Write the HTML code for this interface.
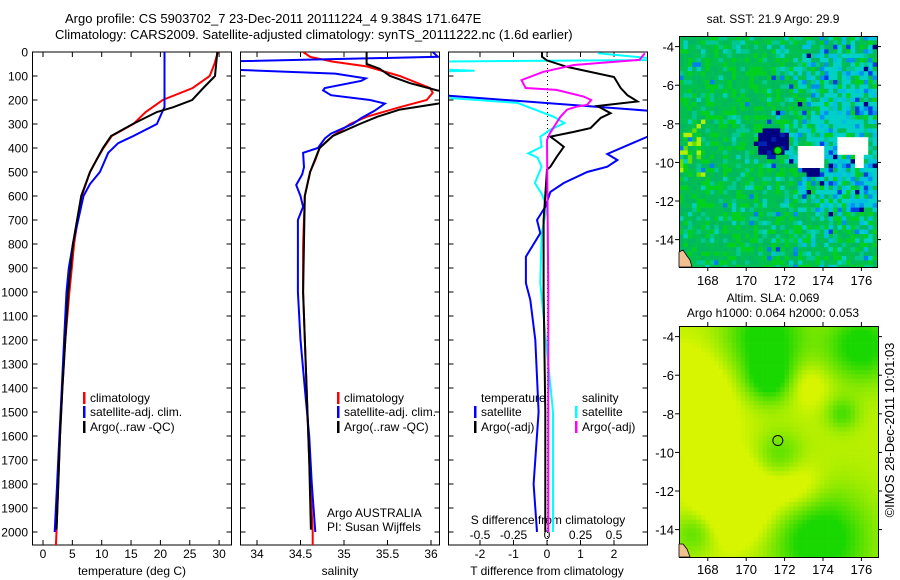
<!DOCTYPE html>
<html><head><meta charset="utf-8">
<style>
html,body{margin:0;padding:0;background:#fff;}
svg{display:block;font-family:"Liberation Sans",sans-serif;}
text{font-size:12px;fill:#000;}
</style></head>
<body>
<svg id="chart" width="900" height="580" viewBox="0 0 900 580">
<defs>
<clipPath id="c1"><rect x="33" y="52" width="198" height="493"/></clipPath>
<clipPath id="c2"><rect x="241" y="52" width="198" height="493"/></clipPath>
<clipPath id="c3"><rect x="449" y="52" width="198" height="493"/></clipPath>
<clipPath id="cm1"><rect x="679" y="36" width="198" height="231"/></clipPath>
<clipPath id="cm2"><rect x="679" y="326" width="199" height="231"/></clipPath>
</defs>
<text x="65" y="23" style="font-size:13px">Argo profile: CS 5903702_7 23-Dec-2011 20111224_4 9.384S 171.647E</text>
<text x="55" y="39" style="font-size:13px">Climatology: CARS2009. Satellite-adjusted climatology: synTS_20111222.nc (1.6d earlier)</text>
<g id="g"></g>
</svg>
<script>
// ---------- data ----------
const tClimDepth=[0,50,100,150,200,250,300,350,400,450,500,600,700,800,900,1000,1200,1400,1600,1800,2000,2055];
const tClimVal=[29.8,29.2,28.4,25.5,20.4,17.5,15.4,11.7,10.3,9.1,8.0,6.6,5.9,5.3,4.9,4.5,3.8,3.3,2.9,2.6,2.3,2.2];
const tSatDepth=[0,230,250,300,350,380,420,500,550,600,700,800,900,1000,1200,1400,1600,1800,2000];
const tSatVal=[20.7,20.7,20.3,19.4,15.4,12.8,11.1,9.7,8.0,6.9,6.0,5.1,4.4,4.0,3.6,3.2,2.8,2.4,2.0];
const tArgoDepth=[0,100,150,200,230,250,300,350,400,500,600,800,1000,1200,1400,1600,1800,1990];
const tArgoVal=[29.7,29.3,27.3,25.4,22.2,19.4,15.3,11.6,10.2,8.0,6.5,5.1,4.3,3.8,3.3,2.9,2.6,2.3];

const sClimDepth=[0,20,40,60,100,150,170,200,230,270,300,350,400,450,500,600,800,1000,1400,1700,2000,2055];
const sClimVal=[34.53,34.61,34.87,35.26,35.64,35.99,36.02,35.95,35.64,35.26,35.07,34.87,34.72,34.67,34.61,34.55,34.53,34.53,34.57,34.6,34.64,34.64];
const sSatDepth=[0,20,40,72,90,110,120,150,160,180,200,215,245,275,300,340,360,400,420,480,510,554,600,645,700,800,1000,1200,1400,1600,1800,2000];
const sSatVal=[36.02,36.08,33.6,33.6,34.9,35.25,35.2,34.78,34.76,34.85,35.3,35.47,35.35,35.2,35.1,34.85,34.78,34.7,34.53,34.54,34.52,34.45,34.5,34.53,34.47,34.47,34.47,34.5,34.55,34.6,34.63,34.67];
const sArgoDepth=[0,50,70,100,130,160,175,200,215,240,270,300,350,400,500,600,1000,1400,1700,1990];
const sArgoVal=[35.26,35.26,35.41,35.53,35.76,36.07,36.3,36.3,36.08,35.64,35.38,35.18,34.87,34.72,34.61,34.55,34.53,34.57,34.6,34.62];

const dTSatDepth=[0,150,260,340,353,425,450,478,500,546,583,645,700,755,853,963,1033,1200,1500,1800,2000];
const dTSatVal=[-6,-6,4.5,3.6,3.0,1.8,2.1,1.8,1.2,0.5,0.1,-0.05,-0.3,-0.2,-0.63,-0.63,-0.5,-0.35,-0.25,-0.4,-0.3];
const dTArgoDepth=[0,20,35,62,104,150,180,206,225,255,275,317,333,353,373,395,435,478,490,700,1000,1500,2000];
const dTArgoVal=[-0.15,-0.15,0,0.6,2.0,2.2,2.4,2.7,1.5,1.9,1.6,1.3,0.8,0.1,0.3,0.5,0.3,0.1,0,-0.1,-0.1,-0.05,-0.05];
const dSSatDepth=[5,33,40,70,78,82,185,212,270,296,325,353,395,422,440,478,546,590,645,755,963,1500,2000];
const dSSatVal=[0.38,0.9,-0.9,-0.9,-0.54,-0.9,-0.9,-0.22,0.05,0.13,0.02,-0.05,-0.04,-0.14,-0.07,-0.04,-0.09,-0.04,0,-0.04,-0.05,0.045,0.045];
const dSArgoDepth=[5,33,54,83,117,150,158,185,200,220,228,240,270,296,340,367,1000,2000];
const dSArgoVal=[0.73,0.69,0.2,-0.03,-0.19,-0.16,0.07,0.27,0.33,0.3,0.22,0.15,0.1,0.07,0.02,0,0.01,0.01];

const depthTicks=[0,100,200,300,400,500,600,700,800,900,1000,1100,1200,1300,1400,1500,1600,1700,1800,1900,2000];
const tTicks=[0,5,10,15,20,25,30];
const sTicks=[34,34.5,35,35.5,36];
const sTickLabels=["34","34.5","35","35.5","36"];
const dTTicks=[-2,-1,0,1,2];
const dSTicks=[-0.5,-0.25,0,0.25,0.5];
const latTicks=[-4,-6,-8,-10,-12,-14];
const lonTicks=[168,170,172,174,176];

// ---------- scales ----------
const yD=d=>52+0.24*d;
const xT=v=>43+5.87*v;
const xS=v=>257+87*(v-34);
const xDT=v=>547+33.5*v;
const xDS=v=>547+134*v;
const NS='http://www.w3.org/2000/svg';
const G=document.getElementById('g');
function el(tag,attrs,parent){const e=document.createElementNS(NS,tag);for(const k in attrs)e.setAttribute(k,attrs[k]);(parent||G).appendChild(e);return e;}
function txt(x,y,s,anchor,parent,size){const t=el('text',{x:x,y:y,'text-anchor':anchor||'start'},parent);if(size)t.style.fontSize=size+'px';t.textContent=s;return t;}
function line(depths,vals,xf,color,clip,name,w){
  const pts=depths.map((d,i)=>xf(vals[i]).toFixed(1)+','+yD(d).toFixed(1)).join(' ');
  const p=el('polyline',{points:pts,fill:'none',stroke:color,'stroke-width':w||2,'clip-path':'url(#'+clip+')'});
  
  
}
function frame(x0,x1,name){
  const r=el('rect',{x:x0,y:52,width:x1-x0,height:493,fill:'none',stroke:'#000','stroke-width':1});
  
  
  depthTicks.forEach(d=>{el('line',{x1:x0,x2:x0+5,y1:yD(d),y2:yD(d),stroke:'#000'});el('line',{x1:x1-5,x2:x1,y1:yD(d),y2:yD(d),stroke:'#000'});});
}
// panel 1
frame(32.5,231.5,'temperature-panel-frame');
depthTicks.forEach(d=>{const t=txt(28,yD(d)+4.5,String(d),'end');});
tTicks.forEach(v=>{el('line',{x1:xT(v),x2:xT(v),y1:52,y2:57,stroke:'#000'});el('line',{x1:xT(v),x2:xT(v),y1:540,y2:545,stroke:'#000'});const t=txt(xT(v),558,String(v),'middle');});
{const t=txt(132,575,'temperature (deg C)','middle');}
line(tClimDepth,tClimVal,xT,'#f00','c1','temperature-climatology-line');
line(tSatDepth,tSatVal,xT,'#00f','c1','temperature-satellite-line');
line(tArgoDepth,tArgoVal,xT,'#000','c1','temperature-argo-line');
// panel 2
frame(240.5,439.5,'salinity-panel-frame');
sTicks.forEach((v,i)=>{el('line',{x1:xS(v),x2:xS(v),y1:52,y2:57,stroke:'#000'});el('line',{x1:xS(v),x2:xS(v),y1:540,y2:545,stroke:'#000'});const t=txt(xS(v),558,sTickLabels[i],'middle');});
{const t=txt(340,575,'salinity','middle');}
line(sClimDepth,sClimVal,xS,'#f00','c2','salinity-climatology-line');
line(sSatDepth,sSatVal,xS,'#00f','c2','salinity-satellite-line');
line(sArgoDepth,sArgoVal,xS,'#000','c2','salinity-argo-line');
// panel 3
frame(448.5,647.5,'difference-panel-frame');
el('line',{x1:547.5,x2:547.5,y1:52,y2:545,stroke:'#000','stroke-dasharray':'1,3'});
dTTicks.forEach(v=>{el('line',{x1:xDT(v),x2:xDT(v),y1:52,y2:57,stroke:'#000'});el('line',{x1:xDT(v),x2:xDT(v),y1:540,y2:545,stroke:'#000'});const t=txt(xDT(v),558,String(v),'middle');});
dSTicks.forEach(v=>{const t=txt(xDS(v),539,String(v),'middle');});
{const t=txt(547,575,'T difference from climatology','middle');}
{const t=txt(548,524,'S difference from climatology','middle');}
line(dSSatDepth,dSSatVal,xDS,'#0ff','c3','s-difference-satellite-line');
line(dTSatDepth,dTSatVal,xDT,'#00f','c3','t-difference-satellite-line');
line(dTArgoDepth,dTArgoVal,xDT,'#000','c3','t-difference-argo-line');
line(dSArgoDepth,dSArgoVal,xDS,'#f0f','c3','s-difference-argo-line');
// legends
function leg(x,y,c,s,name){el('rect',{x:x,y:y-10,width:2.5,height:12,fill:c});const t=txt(x+7,y,s,'start');}
leg(83,402,'#f00','climatology','legend-entry-climatology');
leg(83,416,'#00f','satellite-adj. clim.','legend-entry-satellite');
leg(83,431,'#000','Argo(..raw -QC)','legend-entry-argo');
leg(337,402,'#f00','climatology','legend-entry-climatology');
leg(337,416,'#00f','satellite-adj. clim.','legend-entry-satellite');
leg(337,431,'#000','Argo(..raw -QC)','legend-entry-argo');
txt(481,402,'temperature','start');
leg(474,416,'#00f','satellite','legend-entry-t-satellite');
leg(474,431,'#000','Argo(-adj)','legend-entry-t-argo');
txt(582,402,'salinity','start');
leg(575,416,'#0ff','satellite','legend-entry-s-satellite');
leg(575,431,'#f0f','Argo(-adj)','legend-entry-s-argo');
{const t=txt(327,517,'Argo AUSTRALIA');}
{const t=txt(327,531,'PI: Susan Wijffels');}

// ---------- maps (raster background texture) ----------
const lonMin=166.5,lonMax=176.8,latTop=-3.45,latBot=-15.4;
function h(i,j,k){let n=Math.imul(i+1,374761393)+Math.imul(j+7,668265263)+Math.imul(k||0,2246822519);n=Math.imul(n^(n>>>13),1274126177);n=n^(n>>>16);return (n>>>0)/4294967296;}
function mapAxes(x0,y0){
  const mx=lo=>x0+(lo-lonMin)*19.2, my=la=>y0+(latTop-la)*19.3;
  return {mx,my};
}
function drawMap(x0,y0,clip,colorFn,name){
  const g=el('g',{'clip-path':'url(#'+clip+')'});
  
  
  const cs=4.4;
  for(let j=0;j<54;j++)for(let i=0;i<46;i++){
    const lo=lonMin+(i+0.5)*cs/19.2, la=latTop-(j+0.5)*cs/19.3;
    el('rect',{x:(x0+i*cs).toFixed(1),y:(y0+j*cs).toFixed(1),width:cs+0.3,height:cs+0.3,fill:colorFn(lo,la,i,j)},g);
  }
  return g;
}
function sstColor(lo,la,i,j){
  const r=h(i,j,1), r2=h(i,j,2);
  const dk=Math.hypot((lo-171.4)/0.9,(la+9)/0.75);
  if(dk<1)return r<0.7?'#000080':'#0020b0';
  if(Math.hypot((lo-173.4)/0.4,(la+10.5)/0.3)<1)return '#000080';
  if((la<-9.2&&la>-10.3&&lo>172.8&&lo<174)||(la<-8.8&&la>-9.6&&lo>174.8&&lo<176.4)||(la<-9.6&&la>-10.2&&lo>175.6&&lo<176.1))return '#fff';
  let ne=Math.max(0,Math.min(1,(lo-171)/3.5));
  if(la<-12.5)ne*=0.25;
  if(la>-5)ne*=0.6;
  if(r2<ne*0.7){ if(r<0.55)return '#00d0c8'; if(r<0.8)return '#00c0e0'; if(r<0.93)return '#0090f0'; if(r<0.98)return '#0040e0'; return '#000080';}
  if(lo<167.8&&la<-7.8&&la>-11&&r2>0.7)return r<0.4?'#b0f000':'#60e000';
  if(r<0.35)return '#00c050';if(r<0.6)return '#00b860';if(r<0.82)return '#00d020';if(r<0.94)return '#00c890';if(r<0.98)return '#00d0c0';return '#0080f0';
}
const gp=[[171,-4,1.5,1],[176,-4.5,1.3,1],[173.8,-14.5,1.8,1.1],[171.2,-6.2,0.9,0.9],[175,-8,0.6,0.6],[171.7,-10.2,0.9,0.6],[167.3,-14.2,0.8,0.6],[169.5,-12.5,1.6,-0.8],[167.2,-7,1.6,-0.6],[172.7,-11.8,1,-0.5],[173.2,-6.5,0.8,-0.4]];
function slaColor(lo,la){
  let v=0.15;gp.forEach(p=>{v+=p[3]*Math.exp(-((lo-p[0])**2+(la-p[1])**2)/(2*p[2]*p[2]));});
  v=Math.max(0,Math.min(1,v));
  const r=Math.round(215-190*v),gg=Math.round(245-30*v),b=0;
  return 'rgb('+r+','+gg+','+b+')';
}
function mapFrame(x0,y0,w,hh,name,labY){
  const {mx,my}=mapAxes(x0,y0);
  const r=el('rect',{x:x0+0.5,y:y0+0.5,width:w,height:hh,fill:'none',stroke:'#000'});
  
  
  latTicks.forEach(la=>{el('line',{x1:x0-4,x2:x0,y1:my(la),y2:my(la),stroke:'#000'});el('line',{x1:x0+w,x2:x0+w+4,y1:my(la),y2:my(la),stroke:'#000'});const t=txt(x0-5,my(la)+5,String(la),'end',null,13);});
  lonTicks.forEach(lo=>{el('line',{x1:mx(lo),x2:mx(lo),y1:y0-4,y2:y0,stroke:'#000'});el('line',{x1:mx(lo),x2:mx(lo),y1:y0+hh,y2:y0+hh+4,stroke:'#000'});const t=txt(mx(lo),labY,String(lo),'middle',null,13);});
  return {mx,my};
}
drawMap(679,36,'cm1',sstColor,'sst-map');
const a1=mapFrame(679,36,198,231,'sst-map-frame',285);
{const c=el('circle',{cx:a1.mx(171.647),cy:a1.my(-9.384),r:4,fill:'#00e000',stroke:'#004000','stroke-width':1.2});}
el('path',{d:'M679,252 l4,-2 l4,6 l3,4 l2,7 l-13,0 z',fill:'#f0c090',stroke:'#000','stroke-width':0.8});
{const t=txt(773,23,'sat. SST: 21.9 Argo: 29.9','middle');}

drawMap(679,326,'cm2',slaColor,'sla-map');
const a2=mapFrame(679,326,199,231,'sla-map-frame',574);
{const c=el('circle',{cx:a2.mx(171.647),cy:a2.my(-9.384),r:5,fill:'none',stroke:'#000','stroke-width':1});}
el('path',{d:'M679,544 l4,0 l4,5 l3,8 l-11,0 z',fill:'#f0c090',stroke:'#000','stroke-width':0.8});
{const t=txt(773,302,'Altim. SLA: 0.069','middle');}
{const t=txt(773,317,'Argo h1000: 0.064 h2000: 0.053','middle');}
{const t=txt(0,0,'©IMOS 28-Dec-2011 10:01:03','middle');t.setAttribute('transform','translate(894,430) rotate(-90)');t.style.fontSize='13px';}
</script>
</body></html>
